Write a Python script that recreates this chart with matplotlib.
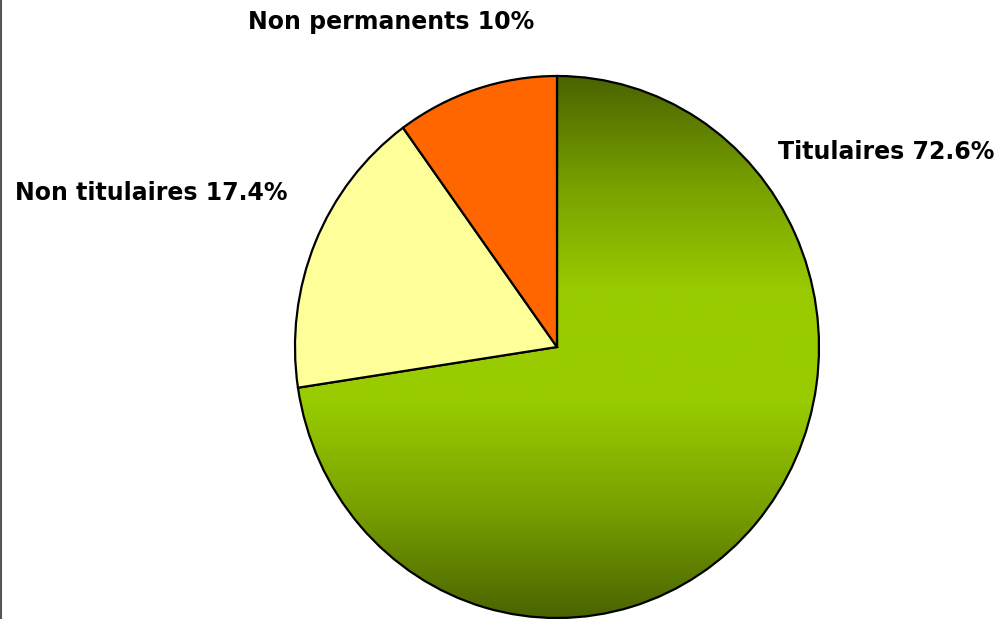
import matplotlib

matplotlib.use("Agg")
import matplotlib.pyplot as plt  # noqa: E402
import numpy as np  # noqa: E402
from matplotlib.colors import LinearSegmentedColormap  # noqa: E402

labels = ["Titulaires", "Non titulaires", "Non permanents"]
shares = [72.6, 17.4, 10.0]
pct_text = ["72.6%", "17.4%", "10%"]
colors = ["#99cc00", "#ffff99", "#ff6600"]

W, H = 1000, 619
CX, CY = 557, 347        # pie centre, pixels from top-left
RX, RY = 262, 271        # pie is slightly taller than wide

fig = plt.figure(figsize=(W / 100, H / 100), dpi=100)
ax = fig.add_axes([0, 0, 1, 1])
wedges, _ = ax.pie(shares, colors=colors, startangle=90, counterclock=False,
                   wedgeprops=dict(edgecolor="black", linewidth=1.6))
ax.set_aspect("auto")
ax.set_xlim(-CX / RX, (W - CX) / RX)
ax.set_ylim(-(H - CY) / RY, CY / RY)
ax.axis("off")

# vertical gradient on the big slice: dark olive at top and bottom, bright in the middle
green = LinearSegmentedColormap.from_list(
    "g", ["#4a6400", "#78a000", "#99cc00", "#99cc00", "#78a000", "#4a6400"])
grad = np.linspace(0, 1, 256).reshape(-1, 1)
im = ax.imshow(grad, cmap=green, aspect="auto", extent=(-1, 1, -1, 1),
               origin="lower", zorder=wedges[0].get_zorder() - 0.01)
wedges[0].set_facecolor("none")
im.set_clip_path(wedges[0])

font = dict(fontsize=17, fontweight="bold", color="black", family="DejaVu Sans")
fig.text(778 / W, 1 - 152 / H, f"{labels[0]} {pct_text[0]}", ha="left", va="center", **font)
fig.text(15 / W, 1 - 193 / H, f"{labels[1]} {pct_text[1]}", ha="left", va="center", **font)
fig.text(391 / W, 1 - 22 / H, f"{labels[2]} {pct_text[2]}", ha="center", va="center", **font)

# thin frame line on the left edge
fig.add_artist(plt.Line2D([0.001, 0.001], [0, 1], color="#555555", lw=1.5))

fig.savefig("out.png", dpi=100)
